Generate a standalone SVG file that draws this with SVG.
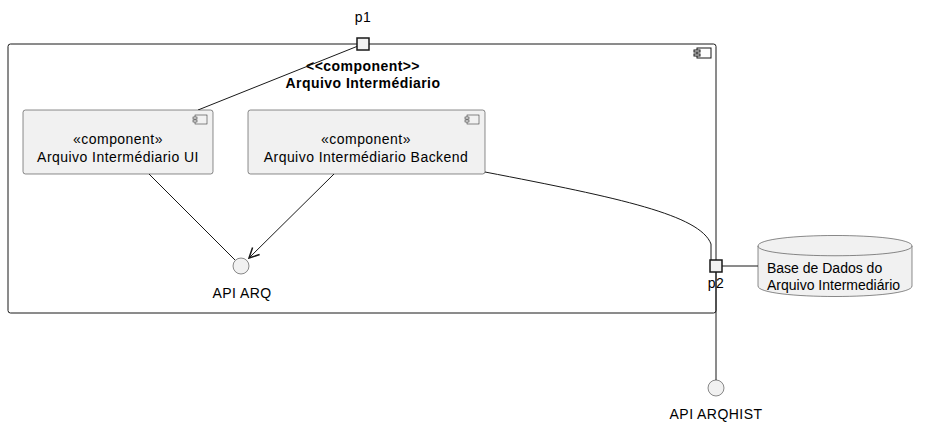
<svg xmlns="http://www.w3.org/2000/svg" width="927" height="427" viewBox="0 0 927 427">
<style>
text{font-family:"Liberation Sans",Arial,sans-serif;font-size:14px;letter-spacing:0.45px;fill:#000}
.b{font-weight:bold}
.ns{letter-spacing:0}
.box{fill:#F1F1F1;stroke:#181818;stroke-width:0.5}
.icon{fill:#F1F1F1;stroke:#181818;stroke-width:0.5}
.port{fill:#F1F1F1;stroke:#181818;stroke-width:1.5}
.ln{fill:none;stroke:#181818;stroke-width:1}
</style>
<defs>
<marker id="ah" viewBox="0 0 12 12" refX="11" refY="6" markerWidth="12" markerHeight="12" markerUnits="userSpaceOnUse" orient="auto">
<path d="M1,1 L11,6 L1,11" fill="none" stroke="#181818" stroke-width="1.5"/>
</marker>
</defs>
<rect width="927" height="427" fill="#FFFFFF"/>
<g id="outer">
<rect x="8" y="44" width="708" height="269" rx="2.5" fill="#FFFFFF" stroke="#181818" stroke-width="1"/>
<rect x="697" y="48" width="14" height="10" fill="#FFFFFF" stroke="#181818" stroke-width="1"/>
<rect x="694" y="50" width="6" height="2" fill="#FFFFFF" stroke="#181818" stroke-width="1"/>
<rect x="694" y="54" width="6" height="2" fill="#FFFFFF" stroke="#181818" stroke-width="1"/>
<text x="363" y="71" text-anchor="middle" class="b">&lt;&lt;component&gt;&gt;</text>
<text x="363" y="88" text-anchor="middle" class="b">Arquivo Intermédiario</text>
</g>
<g id="connectors">
<line x1="363" y1="44" x2="198" y2="110" class="ln"/>
<line x1="149" y1="174" x2="235" y2="260" class="ln"/>
<line x1="334" y1="174" x2="249" y2="258" class="ln" marker-end="url(#ah)"/>
<path d="M485,172 C620,198 700,215 711,244 L711,260" class="ln"/>
<line x1="722" y1="266" x2="758" y2="266" class="ln"/>
<line x1="716" y1="272" x2="716" y2="380" class="ln"/>
</g>
<g id="ui">
<rect x="23" y="110" width="190" height="64" rx="2.5" class="box"/>
<rect x="195" y="115" width="12" height="9" class="icon"/>
<rect x="193" y="117" width="4" height="2" class="icon"/>
<rect x="193" y="120" width="4" height="2" class="icon"/>
<text x="118" y="144" text-anchor="middle">«component»</text>
<text x="118" y="162" text-anchor="middle">Arquivo Intermédiario UI</text>
</g>
<g id="backend">
<rect x="248" y="110" width="237" height="64" rx="2.5" class="box"/>
<rect x="467" y="115" width="12" height="9" class="icon"/>
<rect x="465" y="117" width="4" height="2" class="icon"/>
<rect x="465" y="120" width="4" height="2" class="icon"/>
<text x="366" y="144" text-anchor="middle">«component»</text>
<text x="366" y="162" text-anchor="middle">Arquivo Intermédiario Backend</text>
</g>
<g id="apiarq">
<circle cx="241" cy="266" r="8" class="box"/>
<text x="242" y="298" text-anchor="middle">API ARQ</text>
</g>
<g id="p1">
<rect x="357" y="38" width="12" height="12" class="port"/>
<text x="363" y="22" text-anchor="middle">p1</text>
</g>
<g id="p2">
<rect x="710" y="260" width="12" height="12" class="port"/>
<text x="716" y="288" text-anchor="middle">p2</text>
</g>
<g id="db">
<path d="M758,246 C758,232 912,232 912,246 L912,286 C912,300 758,300 758,286 Z" class="box"/>
<path d="M758,246 C758,259 912,259 912,246" class="box" fill="none"/>
<text x="767" y="273" class="ns">Base de Dados do</text>
<text x="767" y="290" class="ns">Arquivo Intermediário</text>
</g>
<g id="apiarqhist">
<circle cx="716" cy="388" r="8" class="box"/>
<text x="716" y="419" text-anchor="middle">API ARQHIST</text>
</g>
</svg>
